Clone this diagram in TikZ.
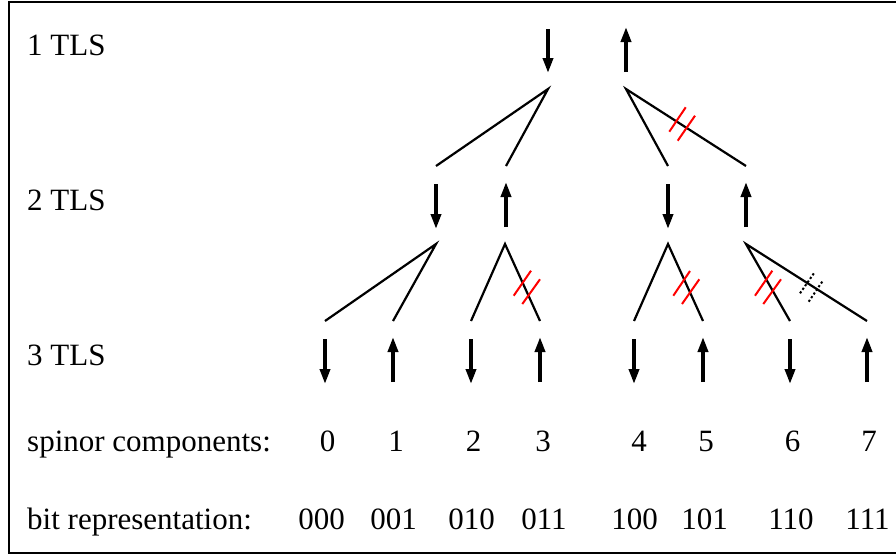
\documentclass[tikz,border=0pt]{standalone}
\usepackage{fontspec}
\setmainfont{Liberation Serif}
\usetikzlibrary{arrows.meta}
\begin{document}
\begin{tikzpicture}[x=1pt,y=-1pt,
  txt/.style={inner sep=0pt,font=\fontsize{31}{37}\selectfont},
  lbl/.style={txt,anchor=base west},
  num/.style={txt,anchor=base},
  spin/.style={line width=3.6pt,-{Triangle[length=15pt,width=10pt]}},
  branch/.style={line width=2.2pt},
  cut/.style={line width=2pt,red},
  dcut/.style={line width=2pt,black,dash pattern=on 2.2pt off 2.2pt}]
\useasboundingbox (0,0) rectangle (896,555);
\draw[line width=2pt] (898,2) -- (9,2) -- (9,553) -- (898,553);
% row labels
\node[lbl] (l1) at (27,55) {1 TLS};
\node[lbl] (l2) at (27,210) {2 TLS};
\node[lbl] (l3) at (27,365) {3 TLS};
\node[lbl] (ls) at (27,451) {spinor components:};
\node[lbl] (lb) at (27,529) {bit representation:};
% level 1 spins
\coordinate (a1s) at (548,29); \coordinate (a1e) at (548,73);
\coordinate (b1s) at (626,72); \coordinate (b1e) at (626,27);
\draw[spin] (a1s) -- (a1e);
\draw[spin] (b1s) -- (b1e);
% level 1 branches
\coordinate (p1) at (548,89); \coordinate (p2) at (626,89);
\coordinate (q1) at (436,166); \coordinate (q2) at (506,166);
\coordinate (q3) at (668,166); \coordinate (q4) at (746,166);
\draw[branch] (q1) -- (p1) -- (q2);
\draw[branch] (q3) -- (p2) -- (q4);
\coordinate (c1a) at (669.3,131.7); \coordinate (c1b) at (685.7,107.3);
\coordinate (c2a) at (677.7,140.7); \coordinate (c2b) at (695,115.7);
\draw[cut] (c1a) -- (c1b);
\draw[cut] (c2a) -- (c2b);
% level 2 spins
\foreach \x/\n in {436/s21,668/s23}{
  \coordinate (\n s) at (\x,184); \coordinate (\n e) at (\x,229);
  \draw[spin] (\n s) -- (\n e);}
\foreach \x/\n in {506/s22,746/s24}{
  \coordinate (\n s) at (\x,227); \coordinate (\n e) at (\x,182);
  \draw[spin] (\n s) -- (\n e);}
% level 2 branches
\coordinate (r1) at (436,244); \coordinate (r2) at (505,244);
\coordinate (r3) at (668,244); \coordinate (r4) at (746,244);
\coordinate (t1) at (325,321); \coordinate (t2) at (393,321);
\coordinate (t3) at (471,321); \coordinate (t4) at (540,321);
\coordinate (t5) at (634,321); \coordinate (t6) at (703,321);
\coordinate (t7) at (790,321); \coordinate (t8) at (867,321);
\draw[branch] (t1) -- (r1) -- (t2);
\draw[branch] (t3) -- (r2) -- (t4);
\draw[branch] (t5) -- (r3) -- (t6);
\draw[branch] (t7) -- (r4) -- (t8);
% cuts on level 2 branches
\coordinate (d1a) at (513.7,295.7); \coordinate (d1b) at (531,270.7);
\coordinate (d2a) at (522.3,304); \coordinate (d2b) at (540,279.3);
\draw[cut] (d1a) -- (d1b); \draw[cut] (d2a) -- (d2b);
\coordinate (e1a) at (673.3,295.7); \coordinate (e1b) at (690,271);
\coordinate (e2a) at (682,304); \coordinate (e2b) at (699.3,279.3);
\draw[cut] (e1a) -- (e1b); \draw[cut] (e2a) -- (e2b);
\coordinate (f1a) at (755,295.7); \coordinate (f1b) at (772.3,270.7);
\coordinate (f2a) at (763.3,304); \coordinate (f2b) at (781,279.3);
\draw[cut] (f1a) -- (f1b); \draw[cut] (f2a) -- (f2b);
\coordinate (g1a) at (800,293.3); \coordinate (g1b) at (815,271.7);
\coordinate (g2a) at (808.7,301.7); \coordinate (g2b) at (823.3,280);
\draw[dcut] (g1a) -- (g1b); \draw[dcut] (g2a) -- (g2b);
% level 3 spins
\foreach \x/\n in {325/s31,471/s33,634/s35,790/s37}{
  \coordinate (\n s) at (\x,339); \coordinate (\n e) at (\x,384);
  \draw[spin] (\n s) -- (\n e);}
\foreach \x/\n in {393/s32,540/s34,703/s36,867/s38}{
  \coordinate (\n s) at (\x,382); \coordinate (\n e) at (\x,337);
  \draw[spin] (\n s) -- (\n e);}
% spinor components
\foreach \x/\t/\n in {327.5/0/n0,396/1/n1,473.5/2/n2,543/3/n3,639/4/n4,706/5/n5,792.5/6/n6,869/7/n7}{
  \node[num] (\n) at (\x,451) {\t};}
\foreach \x/\t/\n in {321.5/000/b0,393.5/001/b1,471.5/010/b2,544/011/b3,634.5/100/b4,704.5/101/b5,791/110/b6,867.5/111/b7}{
  \node[num] (\n) at (\x,529) {\t};}
\end{tikzpicture}
\end{document}
